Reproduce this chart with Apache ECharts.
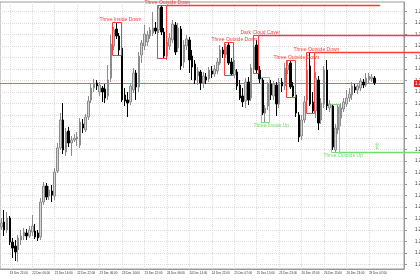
<!DOCTYPE html>
<html><head><meta charset="utf-8">
<script src="https://cdn.jsdelivr.net/npm/echarts@6/dist/echarts.min.js"></script>
<style>html,body{margin:0;padding:0;background:#fff}#c{width:420px;height:280px}</style>
</head><body><div id="c"></div>
<script>
// ---- data ----
const tickLabels = ['19 Dec 22:00','22 Dec 06:00','22 Dec 14:00','22 Dec 22:00','23 Dec 06:00','23 Dec 14:00','23 Dec 22:00','24 Dec 06:00','24 Dec 14:00','24 Dec 22:00','25 Dec 07:00','25 Dec 15:00','25 Dec 23:00','26 Dec 07:00','26 Dec 15:00','26 Dec 23:00','29 Dec 07:00'];
const slotCount = 144;       // bar slots on the time axis (incl. right shift)
const firstLabelSlot = 3;
const labelStep = 8;

const opens = [1.2042,1.2047,1.2039,1.2051,1.2027,1.2023,1.2019,1.2029,1.2033,1.2036,1.2033,1.2037,1.2038,1.2036,
1.2032,1.2067,1.2083,1.2073,1.2078,1.2073,1.2098,1.2121,1.2149,1.2117,1.2138,1.2126,1.2129,1.2130,
1.2124,1.2145,1.2139,1.2152,1.2169,1.2181,1.2186,1.2177,1.2181,1.2180,1.2173,1.2191,1.2223,1.2240,
1.2233,1.2221,1.2174,1.2169,1.2167,1.2179,1.2196,1.2182,1.2214,1.2223,1.2227,1.2233,1.2236,1.2241,
1.2239,1.2262,1.2237,1.2213,1.2223,1.2229,1.2244,1.2221,1.2240,1.2207,1.2223,1.2229,1.2213,1.2205,
1.2193,1.2197,1.2186,1.2192,1.2190,1.2198,1.2195,1.2198,1.2206,1.2219,1.2214,1.2224,1.2207,1.2194,
1.2197,1.2184,1.2173,1.2168,1.2187,1.2171,1.2200,1.2224,1.2199,1.2189,1.2156,1.2163,1.2185,1.2173,
1.2184,1.2165,1.2187,1.2183,1.2199,1.2206,1.2183,1.2174,1.2154,1.2133,1.2149,1.2169,1.2203,1.2167,
1.2158,1.2189,1.2149,1.2165,1.2199,1.2161,1.2163,1.2119,1.2139,1.2151,1.2160,1.2165,1.2171,1.2174,
1.2182,1.2179,1.2181,1.2187,1.2184,1.2189,1.2190,1.2191];
const closes = [1.2046,1.2039,1.2051,1.2027,1.2021,1.2017,1.2031,1.2033,1.2037,1.2033,1.2039,1.2043,1.2032,1.2031,
1.2067,1.2083,1.2072,1.2079,1.2074,1.2097,1.2121,1.2149,1.2119,1.2137,1.2126,1.2129,1.2131,1.2132,
1.2147,1.2141,1.2152,1.2168,1.2181,1.2186,1.2183,1.2184,1.2177,1.2171,1.2189,1.2225,1.2239,1.2233,
1.2219,1.2169,1.2168,1.2166,1.2183,1.2196,1.2182,1.2213,1.2226,1.2235,1.2234,1.2239,1.2241,1.2238,
1.2261,1.2237,1.2213,1.2227,1.2231,1.2245,1.2217,1.2241,1.2203,1.2224,1.2230,1.2209,1.2202,1.2189,
1.2198,1.2186,1.2193,1.2189,1.2199,1.2195,1.2200,1.2207,1.2219,1.2215,1.2222,1.2206,1.2195,1.2199,
1.2183,1.2171,1.2167,1.2187,1.2169,1.2201,1.2222,1.2199,1.2190,1.2156,1.2161,1.2185,1.2174,1.2185,
1.2165,1.2187,1.2183,1.2201,1.2204,1.2182,1.2173,1.2156,1.2132,1.2149,1.2167,1.2199,1.2165,1.2158,
1.2191,1.2146,1.2166,1.2199,1.2163,1.2165,1.2122,1.2141,1.2162,1.2161,1.2167,1.2171,1.2175,1.2183,
1.2179,1.2183,1.2188,1.2184,1.2191,1.2193,1.2192,1.2186];
const lows = [1.2039,1.2033,1.2036,1.2024,1.2011,1.2008,1.2007,1.2024,1.2029,1.2029,1.2031,1.2033,1.2030,1.2028,
1.2029,1.2064,1.2069,1.2069,1.2067,1.2069,1.2096,1.2119,1.2115,1.2113,1.2122,1.2113,1.2127,1.2123,
1.2121,1.2136,1.2137,1.2149,1.2166,1.2177,1.2179,1.2173,1.2167,1.2166,1.2169,1.2187,1.2219,1.2230,
1.2214,1.2167,1.2163,1.2152,1.2164,1.2176,1.2169,1.2177,1.2206,1.2219,1.2223,1.2230,1.2233,1.2235,
1.2236,1.2234,1.2211,1.2209,1.2219,1.2226,1.2214,1.2217,1.2199,1.2201,1.2219,1.2196,1.2189,1.2185,
1.2184,1.2179,1.2181,1.2185,1.2187,1.2191,1.2192,1.2195,1.2204,1.2211,1.2211,1.2204,1.2194,1.2191,
1.2179,1.2169,1.2162,1.2161,1.2164,1.2168,1.2197,1.2196,1.2186,1.2154,1.2147,1.2159,1.2169,1.2169,
1.2153,1.2161,1.2177,1.2179,1.2195,1.2180,1.2172,1.2152,1.2127,1.2129,1.2146,1.2167,1.2163,1.2156,
1.2151,1.2139,1.2145,1.2161,1.2159,1.2157,1.2119,1.2117,1.2135,1.2143,1.2157,1.2162,1.2167,1.2169,
1.2176,1.2175,1.2178,1.2181,1.2182,1.2185,1.2187,1.2184];
const highs = [1.2051,1.2059,1.2057,1.2053,1.2031,1.2029,1.2034,1.2039,1.2041,1.2040,1.2043,1.2054,1.2045,1.2039,
1.2071,1.2087,1.2086,1.2083,1.2084,1.2101,1.2126,1.2156,1.2166,1.2141,1.2142,1.2133,1.2135,1.2137,
1.2151,1.2150,1.2155,1.2173,1.2185,1.2190,1.2189,1.2187,1.2183,1.2185,1.2204,1.2234,1.2242,1.2247,
1.2236,1.2226,1.2181,1.2177,1.2186,1.2201,1.2199,1.2217,1.2229,1.2244,1.2238,1.2242,1.2257,1.2247,
1.2264,1.2263,1.2241,1.2244,1.2236,1.2249,1.2247,1.2246,1.2243,1.2229,1.2234,1.2232,1.2219,1.2209,
1.2202,1.2199,1.2197,1.2196,1.2202,1.2203,1.2204,1.2211,1.2224,1.2222,1.2225,1.2227,1.2211,1.2209,
1.2200,1.2189,1.2181,1.2191,1.2192,1.2205,1.2234,1.2229,1.2203,1.2192,1.2164,1.2187,1.2189,1.2188,
1.2187,1.2191,1.2191,1.2206,1.2209,1.2209,1.2187,1.2179,1.2157,1.2154,1.2173,1.2209,1.2217,1.2177,
1.2197,1.2193,1.2171,1.2203,1.2209,1.2169,1.2165,1.2145,1.2164,1.2166,1.2171,1.2179,1.2181,1.2187,
1.2185,1.2186,1.2191,1.2190,1.2196,1.2196,1.2195,1.2193];

const priceTicks = [1.20045,1.2016,1.20275,1.2039,1.20505,1.2062,1.20735,1.2085,1.20965,1.2108,1.21195,1.2131,1.21425,1.2154,1.21655,1.2177,1.21885,1.2200,1.22115,1.2223,1.22345,1.2246,1.22575];
const priceMin = 1.2000, priceMax = 1.2267;

const patternNames = ['Three Inside Down','Three Outside Down','Dark Cloud Cover','Three Outside Down','Three Outside Down','Three Outside Down','Three Inside Up','Three Outside Up'];
const patternStart = [40, 56, 90, 80, 102, 109, 93, 118];
const patternEnd   = [42, 58, 91, 82, 104, 111, 95, 120];
const patternBull  = [false,false,false,false,false,false,true,true];
const patternLineEnd = [null, 135, 'edge', null, null, 'edge', null, 'edge'];

const arrowSlot = 134, arrowPrice = 1.2122;

// ---- build ----
const RED = '#ff3b3b', GREEN = '#6ee06e';
const FONT = 'Liberation Sans, Arial, sans-serif';
const isLabelSlot = i => i >= firstLabelSlot && (i - firstLabelSlot) % labelStep === 0 && (i - firstLabelSlot) / labelStep < tickLabels.length;
const categories = [];
for (let i = 0; i < slotCount; i++) categories.push(isLabelSlot(i) ? tickLabels[(i - firstLabelSlot) / labelStep] : 's' + i);
const candles = opens.map((o, i) => [o, closes[i], lows[i], highs[i]]);
const patternData = patternNames.map((n, i) => {
  const hs = highs.slice(patternStart[i], patternEnd[i] + 1), ls = lows.slice(patternStart[i], patternEnd[i] + 1);
  return [patternStart[i], patternEnd[i], Math.max(...hs), Math.min(...ls)];
});
const lastClose = closes[closes.length - 1];
const gridInterval = (idx) => isLabelSlot(idx);

const chart = echarts.init(document.getElementById('c'), null, {renderer: 'canvas'});
chart.setOption({
  animation: false,
  backgroundColor: '#fff',
  grid: {left: 0, right: 16, top: 2, bottom: 11, containLabel: false, outerBoundsMode: 'none', show: true, borderColor: '#9a9a9a', borderWidth: 1, backgroundColor: 'transparent'},
  xAxis: {
    type: 'category', data: categories, boundaryGap: true,
    axisLine: {lineStyle: {color: '#9a9a9a', width: 1}},
    axisTick: {interval: gridInterval, alignWithLabel: true, length: 3, lineStyle: {color: '#9a9a9a'}},
    axisLabel: {interval: gridInterval, align: 'left', fontSize: 3, margin: 3, color: '#333', fontFamily: FONT, hideOverlap: false},
    splitLine: {show: true, interval: gridInterval, alignWithLabel: true, lineStyle: {color: '#dcdcdc', type: 'dotted', width: 1}}
  },
  yAxis: {
    type: 'value', position: 'right', min: priceMin, max: priceMax, scale: true,
    axisLine: {show: true, lineStyle: {color: '#9a9a9a', width: 1}},
    axisTick: {show: true, customValues: priceTicks, length: 3, lineStyle: {color: '#9a9a9a'}},
    axisLabel: {customValues: priceTicks, formatter: v => v.toFixed(5), fontSize: 4.5, margin: 11, color: '#333', fontFamily: FONT, hideOverlap: false},
    splitLine: {show: true, lineStyle: {color: '#dcdcdc', type: 'dotted', width: 1}}
  },
  series: [
    {
      // bid line + price tag, placed through the y scale
      type: 'custom', data: [[0, lastClose]], clip: false, z: 1,
      renderItem: (params, api) => {
        const cs = params.coordSys;
        const y = Math.round(api.coord([api.value(0), api.value(1)])[1]) + 0.5;
        return {type: 'group', children: [
          {type: 'line', shape: {x1: cs.x, y1: y, x2: cs.x + cs.width, y2: y}, style: {stroke: '#c86e6e', lineWidth: 1}},
          {type: 'text', style: {text: api.value(1).toFixed(5), x: cs.x + cs.width + 10, y: y, fill: '#fff', backgroundColor: '#e02424', padding: [1, 1], font: '4.5px ' + FONT, align: 'left', verticalAlign: 'middle'}}
        ]};
      }
    },
    {
      type: 'candlestick', data: candles, barWidth: 2, z: 2,
      itemStyle: {color: '#d4d4d4', color0: '#000', borderColor: '#8c8c8c', borderColor0: '#000', borderWidth: 1}
    },
    {
      type: 'custom', data: patternData, clip: false, z: 5,
      encode: {x: [0, 1], y: [2, 3]},
      renderItem: (params, api) => {
        const i = params.dataIndex;
        const s = api.value(0), e = api.value(1), hi = api.value(2), lo = api.value(3);
        const bw = api.size([1, 0])[0];
        const pT = api.coord([s, hi]), pB = api.coord([e, lo]);
        const x0 = Math.round(pT[0] - bw / 2) + 0.5, x1 = Math.round(pB[0] + bw / 2) + 0.5;
        const yT = Math.round(pT[1]) + 0.5, yB = Math.round(pB[1]) + 0.5;
        const bull = patternBull[i], col = bull ? GREEN : RED;
        const children = [
          {type: 'rect', shape: {x: x0, y: yT, width: x1 - x0, height: yB - yT}, style: {fill: null, stroke: col, lineWidth: 1}},
          {type: 'text', style: {text: patternNames[i], x: x0 - (bull ? 8 : 13), y: bull ? yB + 3 : yT - 3, fill: col, font: '5px ' + FONT, align: 'left', verticalAlign: 'middle'}}
        ];
        const le = patternLineEnd[i];
        if (le !== null) {
          const yl = bull ? yB : yT;
          const xe = le === 'edge' ? api.getWidth() : api.coord([le, hi])[0];
          children.push({type: 'line', shape: {x1: x1, y1: yl, x2: xe, y2: yl}, style: {stroke: col, lineWidth: 1.5}});
        }
        return {type: 'group', children};
      }
    },
    {
      type: 'custom', data: [[arrowSlot, arrowPrice]], clip: false, z: 6,
      renderItem: (params, api) => {
        const p = api.coord([api.value(0), api.value(1)]);
        return {type: 'text', style: {text: '\u21E7', x: p[0], y: p[1], fill: GREEN, font: '9px DejaVu Sans', align: 'center', verticalAlign: 'middle'}};
      }
    }
  ]
});
</script></body></html>
